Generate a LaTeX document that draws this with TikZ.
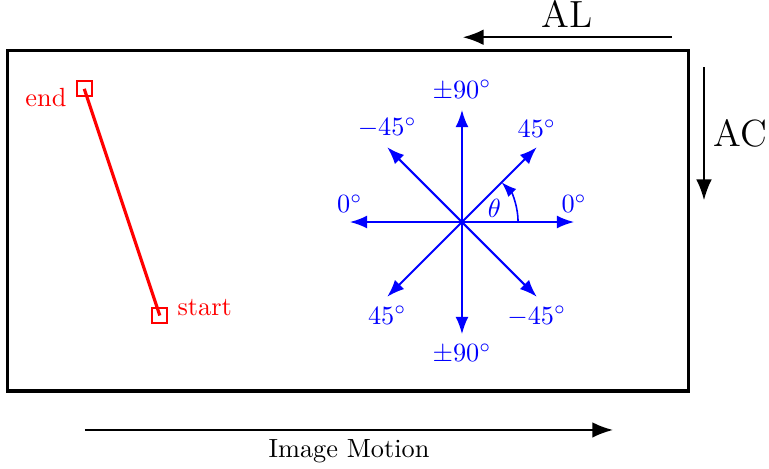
\documentclass[tikz,border=0pt]{standalone}
\usepackage{amsmath,amssymb}
\usepackage{xcolor}
\usetikzlibrary{arrows.meta,positioning,calc}

\begin{document}
\begin{tikzpicture}[>=Latex,
  dir/.style={->,thick,blue},
  dirlbl/.style={blue},
  motion/.style={-{Latex[scale=1.2]},thick},
  pt/.style={draw=red,thick,minimum size=2mm,inner sep=0pt}]
  \useasboundingbox (-6.176,-3.289) rectangle (4.104,2.968);
  % camera frame
  \node[draw,very thick,minimum width=9.1cm,minimum height=4.55cm,inner sep=0pt] (frame) at (-1.52,0.015) {};
  % track of one feature
  \node[pt] (st) at (-4.04,-1.25) {};
  \node[pt] (en) at (-5.05,1.78) {};
  \draw[red,very thick] (st.center) -- (en.center);
  \node[red,right=0pt of st,anchor=base west] (stlbl) {start};
  \node[red,left=0pt of en,anchor=base east,yshift=-2.4mm] (enlbl) {end};
  % directions
  \coordinate (O) at (0,0);
  \coordinate (E) at (1.5,0);
  \coordinate (W) at (-1.5,0);
  \coordinate (N) at (0,1.5);
  \coordinate (S) at (0,-1.5);
  \coordinate (NE) at (1,1);
  \coordinate (NW) at (-1,1);
  \coordinate (SW) at (-1,-1);
  \coordinate (SE) at (1,-1);
  \draw[dir] (O) -- (E);
  \draw[dir] (O) -- (W);
  \draw[dir] (O) -- (N);
  \draw[dir] (O) -- (S);
  \draw[dir] (O) -- (NE);
  \draw[dir] (O) -- (NW);
  \draw[dir] (O) -- (SW);
  \draw[dir] (O) -- (SE);
  \node[dirlbl,above] (lE) at (E) {$0^\circ$};
  \node[dirlbl,above] (lW) at (W) {$0^\circ$};
  \node[dirlbl,above] (lN) at (N) {$\pm 90^\circ$};
  \node[dirlbl,below] (lS) at (S) {$\pm 90^\circ$};
  \node[dirlbl,above] (lNE) at (NE) {$45^\circ$};
  \node[dirlbl,above] (lNW) at (NW) {$-45^\circ$};
  \node[dirlbl,below] (lSW) at (SW) {$45^\circ$};
  \node[dirlbl,below] (lSE) at (SE) {$-45^\circ$};
  \draw[->,blue,semithick] (0.75,0) arc (0:45:0.75);
  \node[dirlbl] (th) at (22.5:0.47) {$\theta$};
  % camera axes
  \coordinate (alR) at (2.81,2.47);
  \coordinate (alL) at (0.01,2.47);
  \draw[motion] (alR) -- node[above,font=\Large] (AL) {AL} (alL);
  \coordinate (acT) at (3.235,2.07);
  \coordinate (acB) at (3.235,0.29);
  \draw[motion] (acT) -- node[right,font=\Large] (AC) {AC} (acB);
  \coordinate (imL) at (-5.04,-2.78);
  \coordinate (imR) at (2.02,-2.78);
  \draw[motion] (imL) -- node[below] (IM) {Image Motion} (imR);
\end{tikzpicture}
\end{document}
